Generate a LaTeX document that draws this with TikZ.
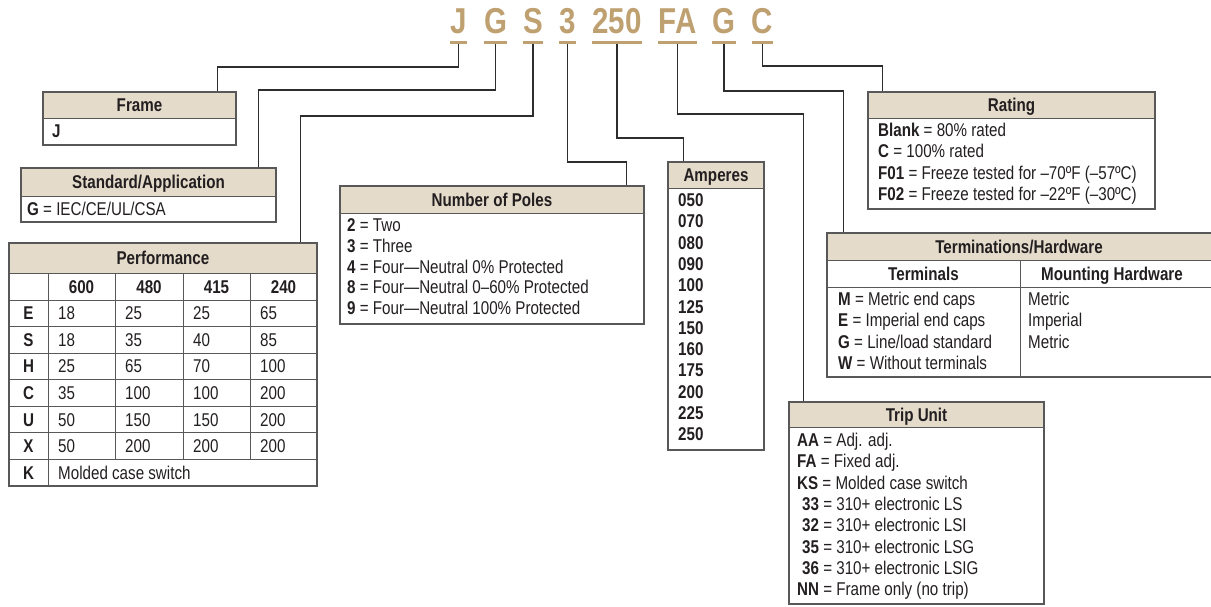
\documentclass[tikz,border=0pt]{standalone}
\usepackage{fontspec}
\setmainfont[FakeStretch=0.82]{Liberation Sans}
\usetikzlibrary{fit}
\definecolor{codetan}{RGB}{191,160,112}
\definecolor{hdrfill}{RGB}{228,219,203}
\definecolor{bord}{RGB}{88,88,88}
\definecolor{ink}{RGB}{35,31,32}
\definecolor{connc}{RGB}{45,45,45}
\newcommand\mkbox[6]{%
  \fill[hdrfill] (#2,#3) rectangle (#4,#6);
  \draw[bord, line width=1pt] (#2,#6) -- (#4,#6);
  \node[fit={(#2,#3) (#4,#5)}, inner sep=0pt, draw=bord, line width=1.4pt] (#1) {};
}
\tikzset{
  code/.style={font=\fontsize{36}{40}\selectfont\bfseries, text=codetan, anchor=base, inner sep=0pt},
  uline/.style={draw=codetan, line width=3pt},
  conn/.style={draw=connc, line width=1.1pt},
  hd/.style={font=\fontsize{18.5}{22}\selectfont\bfseries, text=ink, anchor=base, inner sep=0pt},
  tx/.style={font=\fontsize{18.5}{22}\selectfont, text=ink, anchor=base west, inner sep=0pt},
  grid/.style={draw=bord, line width=0.9pt},
}
\begin{document}
\begin{tikzpicture}[x=1pt, y=-1pt]
\useasboundingbox (0,0) rectangle (1211,606);
% ---- code letters
\foreach \nm/\t/\x in {cJ/J/458.5, cG/G/495.5, cS/S/533, cT/3/567.5, cA/250/617, cF/FA/677.5, cH/G/724, cC/C/762.5}{
  \node[code] (\nm) at (\x,33) {\t};
  \draw[uline] ([shift={(0,9)}]\nm.base west) -- ([shift={(0,9)}]\nm.base east);
}
% ---- boxes
\mkbox{frame}{43}{92}{236}{145}{118}
\mkbox{std}{21}{168}{276}{222}{196}
\mkbox{perf}{9}{243}{317}{486}{273}
\mkbox{poles}{340}{186}{644}{324}{213}
\mkbox{amps}{668}{162}{764}{450}{188}
\mkbox{rating}{868}{92}{1155}{209}{118}
\mkbox{term}{827}{233}{1214}{377}{260}
\mkbox{trip}{789}{402}{1044}{604}{427}
% ---- connectors
\draw[conn] ([shift={(0,10.5)}]cJ.base) -- ++(0,23.5) -| ([shift={(175,0)}]frame.north west);
\draw[conn] ([shift={(0,10.5)}]cG.base) -- ++(0,46.5) -| ([shift={(238,0)}]std.north west);
\draw[conn] ([shift={(0,10.5)}]cS.base) -- ++(0,72.5) -| ([shift={(292,0)}]perf.north west);
\draw[conn] ([shift={(0,10.5)}]cT.base) -- ++(0,118.5) -| ([shift={(287,0)}]poles.north west);
\draw[conn] ([shift={(0,10.5)}]cA.base) -- ++(0,94.5) -| ([shift={(16,0)}]amps.north west);
\draw[conn] ([shift={(0,10.5)}]cF.base) -- ++(0,70.5) -| ([shift={(15,0)}]trip.north west);
\draw[conn] ([shift={(0,10.5)}]cH.base) -- ++(0,47.5) -| ([shift={(17,0)}]term.north west);
\draw[conn] ([shift={(0,10.5)}]cC.base) -- ++(0,22.5) -| ([shift={(15,0)}]rating.north west);
% ---- Frame
\node[hd] (frameH) at (139.5,111.5) {Frame};
\node[tx] (frameJ) at (52,137.5) {\textbf{J}};
% ---- Standard
\node[hd] (stdH) at (148.5,188.5) {Standard/Application};
\node[tx] (stdG) at (27,215.5) {\textbf{G} = IEC/CE/UL/CSA};
% ---- Performance
\node[hd] (perfH) at (163,264.5) {Performance};
\draw[grid] (9,300) -- (317,300);
\foreach \k in {1,...,6}{ \draw[grid] (9,{300+26.57*\k}) -- (317,{300+26.57*\k}); }
\draw[grid] (48,273) -- (48,486);
\foreach \xx in {115,183,250}{ \draw[grid] (\xx,273) -- (\xx,459.4); }
\foreach \v/\xx [count=\k] in {600/81.5, 480/149, 415/216.5, 240/283.5}{
  \node[hd] (ph\k) at (\xx,293) {\v};
}
\foreach \l/\a/\b/\c/\d [count=\k from 0] in {E/18/25/25/65, S/18/35/40/85, H/25/65/70/100, C/35/100/100/200, U/50/150/150/200, X/50/200/200/200}{
  \node[hd] (pl\k) at (28.5,{300+26.57*(\k+0.5)+6.5}) {\l};
  \node[tx] (pa\k) at (58,{300+26.57*(\k+0.5)+6.5}) {\a};
  \node[tx] (pb\k) at (125,{300+26.57*(\k+0.5)+6.5}) {\b};
  \node[tx] (pc\k) at (193,{300+26.57*(\k+0.5)+6.5}) {\c};
  \node[tx] (pd\k) at (260,{300+26.57*(\k+0.5)+6.5}) {\d};
}
\node[hd] (plK) at (28.5,{300+26.57*6.5+6.5}) {K};
\node[tx] (paK) at (58,{300+26.57*6.5+6.5}) {Molded case switch};
% ---- Number of Poles
\node[hd] (polesH) at (492,206) {Number of Poles};
\foreach \a/\b [count=\k from 0] in {2/Two, 3/Three, 4/Four—Neutral 0\% Protected, 8/Four—Neutral 0–60\% Protected, 9/Four—Neutral 100\% Protected}{
  \node[tx] (pol\k) at (347,{231.5+20.75*\k}) {\textbf{\a} = \b};
}
% ---- Amperes
\node[hd] (ampsH) at (716,181.5) {Amperes};
\foreach \a [count=\k from 0] in {050,070,080,090,100,125,150,160,175,200,225,250}{
  \node[tx] (amp\k) at (678,{206.5+21.3*\k}) {\textbf{\a}};
}
% ---- Rating
\node[hd] (ratH) at (1011.5,111.5) {Rating};
\foreach \a/\b [count=\k from 0] in {Blank/80\% rated, C/100\% rated, F01/Freeze tested for –70ºF (–57ºC), F02/Freeze tested for –22ºF (–30ºC)}{
  \node[tx] (rat\k) at (878,{136.5+21.3*\k}) {\textbf{\a} = \b};
}
% ---- Terminations
\node[hd] (termH) at (1019,253) {Terminations/Hardware};
\draw[grid] (827,287) -- (1214,287);
\draw[grid] (1020,260) -- (1020,377);
\node[hd] (termT) at (923.5,280) {Terminals};
\node[hd] (termM) at (1112,280) {Mounting Hardware};
\foreach \a/\b/\c [count=\k from 0] in {M/Metric end caps/Metric, E/Imperial end caps/Imperial, G/{Line/load standard}/Metric, W/Without terminals/{}}{
  \node[tx] (term\k) at (838,{305.5+21.3*\k}) {\textbf{\a} = \b};
  \node[tx] (hw\k) at (1028,{305.5+21.3*\k}) {\c};
}
% ---- Trip Unit
\node[hd] (tripH) at (916.5,421) {Trip Unit};
\foreach \a/\b/\ind [count=\k from 0] in {AA/Adj. adj./0, FA/Fixed adj./0, KS/Molded case switch/0, 33/310+ electronic LS/5, 32/310+ electronic LSI/5, 35/310+ electronic LSG/5, 36/310+ electronic LSIG/5, NN/Frame only (no trip)/0}{
  \node[tx] (trip\k) at ({797+\ind},{446.5+21.3*\k}) {\textbf{\a} = \b};
}
\end{tikzpicture}
\end{document}
